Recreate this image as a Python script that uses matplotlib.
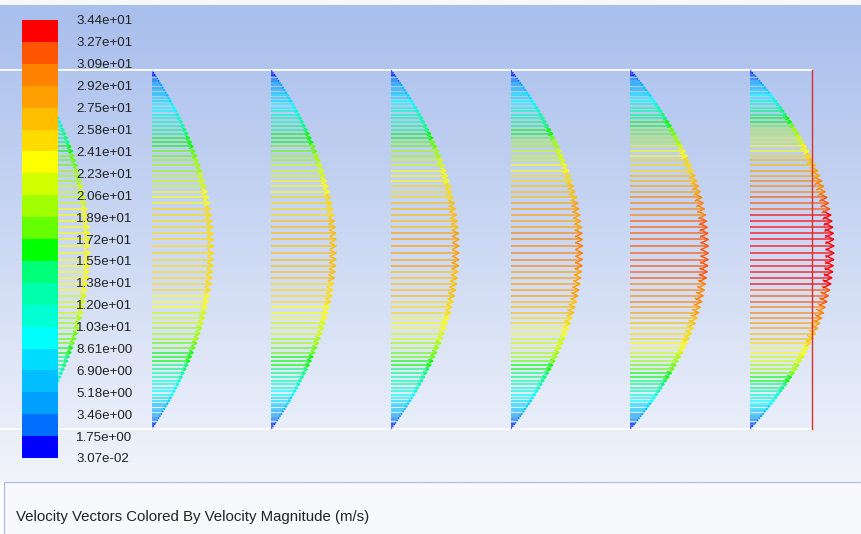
import numpy as np
import matplotlib
matplotlib.use("Agg")
import matplotlib.pyplot as plt
from matplotlib.colors import ListedColormap, BoundaryNorm
from matplotlib.collections import LineCollection
from matplotlib.patches import Rectangle
import matplotlib.cm as cm

plt.rcParams['font.family'] = ['Liberation Sans', 'DejaVu Sans']

# Velocity magnitude legend levels (m/s) and band colours
levels = [0.0307, 1.75, 3.46, 5.18, 6.90, 8.61, 10.3, 12.0, 13.8, 15.5, 17.2,
          18.9, 20.6, 22.3, 24.1, 25.8, 27.5, 29.2, 30.9, 32.7, 34.4]
band_colors = ['#0000ff', '#006eff', '#00a0ff', '#00beff', '#00dcff',
               '#00ffff', '#00ffd2', '#00ffaa', '#00ff78', '#00ff00',
               '#64ff00', '#a0ff00', '#d2ff00', '#ffff00', '#ffdc00',
               '#ffbe00', '#ffa000', '#ff8200', '#ff5500', '#ff0000']

# Streamwise stations (x/h) and the centreline speed at each (m/s)
station_x = [0.0, 1 / 3, 2 / 3, 1.0, 4 / 3, 5 / 3, 2.0]
centre_speed = [23.8, 25.4, 26.6, 27.9, 29.5, 32.0, 34.4]

# Cell rows of one half channel: wall distance y/h and u / u_centre
row_eta = [0.003, 0.008, 0.013, 0.018, 0.024, 0.030, 0.036, 0.042, 0.049,
           0.056, 0.063, 0.071, 0.079, 0.087, 0.096, 0.105, 0.114, 0.124,
           0.134, 0.144, 0.155, 0.166, 0.177, 0.189, 0.201, 0.213, 0.226,
           0.239, 0.252, 0.266, 0.280, 0.294, 0.309, 0.324, 0.339, 0.355,
           0.371, 0.387, 0.404, 0.421, 0.438, 0.455, 0.472, 0.490]
row_shape = [0.012, 0.032, 0.051, 0.071, 0.094, 0.116, 0.139, 0.161, 0.186,
             0.211, 0.236, 0.264, 0.291, 0.318, 0.347, 0.376, 0.404, 0.434,
             0.464, 0.493, 0.524, 0.554, 0.583, 0.613, 0.642, 0.671, 0.700,
             0.728, 0.754, 0.781, 0.806, 0.830, 0.854, 0.876, 0.896, 0.916,
             0.934, 0.949, 0.963, 0.975, 0.985, 0.992, 0.997, 1.000]

outlet_x = 2.173          # x/h of the outlet plane
vec_scale = 0.0068        # arrow length (h) per m/s
head_len = 0.10           # head length as a fraction of arrow length
head_half = 0.05          # head half-width as a fraction of arrow length

W, H = 862, 534
fig = plt.figure(figsize=(W / 100, H / 100), dpi=100)

# ---- background: graphics window gradient and caption panel ----
bg = fig.add_axes([0, 0, 1, 1], zorder=-2)
bg.set_xlim(0, W)
bg.set_ylim(H, 0)
bg.axis('off')
top = np.array([168, 190, 236]) / 255
bot = np.array([241, 244, 251]) / 255
t = np.linspace(0, 1, 256)[:, None]
grad = (top[None, :] * (1 - t) + bot[None, :] * t)[:, None, :]
bg.imshow(grad, extent=(0, W, 482, 5), aspect='auto', interpolation='bilinear')
bg.add_patch(Rectangle((0, 0), W, 5, color='#f7f8fb', lw=0))
bg.add_patch(Rectangle((4, 482), W, 60, facecolor='#f8f9fc',
                       edgecolor='#b4c2dc', lw=1.0))

# ---- channel with velocity vectors ----
ax = fig.add_axes([0, 0, 1, 1])
ax.patch.set_alpha(0)
ax.axis('off')
ax.set_xlim(-32 / 359, 830 / 359)
ax.set_ylim(-105 / 359, 429 / 359)

cmap = ListedColormap(band_colors)
norm = BoundaryNorm(levels, cmap.N)

eta = np.array(row_eta)
shape = np.array(row_shape)
ys = np.concatenate([eta, 1 - eta[::-1]])
fr = np.concatenate([shape, shape[::-1]])

shafts, heads, cols = [], [], []
for x0, uc in zip(station_x, centre_speed):
    speeds = uc * fr
    rgba = cmap(norm(speeds))
    for y, u, c in zip(ys, speeds, rgba):
        L = u * vec_scale
        x1 = x0 + L
        shafts.append([(x0, y), (x1, y)])
        heads.append([(x1 - head_len * L, y + head_half * L), (x1, y),
                      (x1 - head_len * L, y - head_half * L)])
        cols.append(c)

# walls and outlet plane
ax.plot([-1, outlet_x], [1, 1], color='white', lw=1.3, zorder=1)
ax.plot([-1, outlet_x], [0, 0], color='white', lw=1.3, zorder=1)
ax.add_collection(LineCollection(shafts, colors=cols, linewidths=1.1,
                                 alpha=0.8, zorder=2))
ax.add_collection(LineCollection(heads, colors=cols, linewidths=1.0,
                                 zorder=2))
ax.plot([outlet_x, outlet_x], [0, 1], color='#d8302c', lw=1.0, zorder=3)

# ---- colour legend ----
cax = fig.add_axes([22 / W, (H - 458) / H, 36 / W, 438 / H])
cb = fig.colorbar(cm.ScalarMappable(norm=norm, cmap=cmap), cax=cax,
                  ticks=levels, spacing='uniform')
cb.outline.set_visible(False)
cb.set_ticklabels(['%.2e' % v for v in levels])
cax.tick_params(length=0, pad=13, labelsize=9.6, labelcolor='#222222')

fig.text(16 / W, 1 - 517 / H,
         'Velocity Vectors Colored By Velocity Magnitude (m/s)',
         fontsize=10.8, color='#222222', va='center', ha='left')

fig.savefig('out.png', dpi=100)
